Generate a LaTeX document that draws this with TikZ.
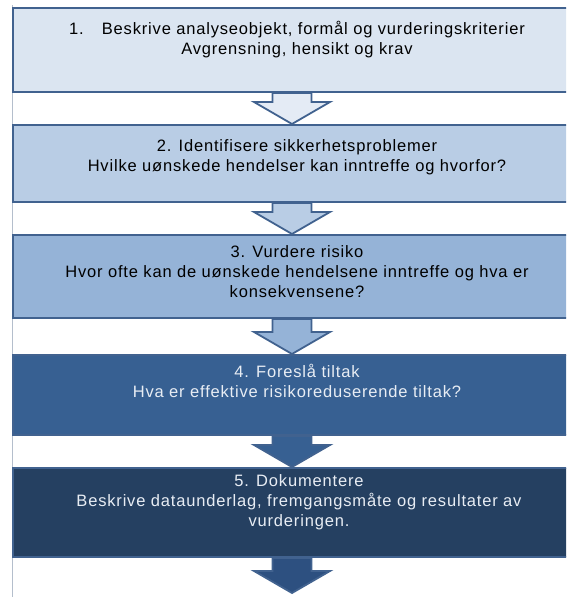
\documentclass[tikz,border=0pt]{standalone}
\usepackage{fontspec}
\setmainfont{Liberation Sans}[LetterSpace=5]
\usepackage{tikz}

\definecolor{boxline}{HTML}{41628F}
\definecolor{fillone}{HTML}{DBE5F1}
\definecolor{filltwo}{HTML}{B9CDE5}
\definecolor{fillthree}{HTML}{95B3D7}
\definecolor{fillfour}{HTML}{376092}
\definecolor{fillfive}{HTML}{254061}
\definecolor{arrowone}{HTML}{E4EBF5}
\definecolor{arrowfive}{HTML}{2D5080}
\definecolor{paletext}{HTML}{E8EDF4}
\definecolor{sideline}{HTML}{B4BECC}

\tikzset{
  stepbox/.style={draw=boxline, line width=2pt, rectangle, minimum width=558pt, inner sep=0pt},
  steptext/.style={align=center, inner sep=0pt, font=\fontsize{16.5}{20}\selectfont},
  flowarrow/.style={draw=boxline, line width=1.8pt, line join=miter},
}

% arrow between two boxes: shaft from the upper box, tip on the lower one
\newcommand{\flowarrow}[3]{%
  \draw[flowarrow, fill=#3]
    ([xshift=-19.5pt]#1.south) -- ([xshift=-19.5pt,yshift=22pt]#2)
    -- ([xshift=-38pt,yshift=22pt]#2) -- (#2)
    -- ([xshift=38pt,yshift=22pt]#2) -- ([xshift=19.5pt,yshift=22pt]#2)
    -- ([xshift=19.5pt]#1.south) -- cycle;
}

\begin{document}
\begin{tikzpicture}[x=1pt,y=1pt]

\useasboundingbox (0,0) rectangle (566,597);
\clip (0,0) rectangle (566,597);

% thin line down the left side
\draw[sideline, line width=1pt] (12.5,0) -- (12.5,592);

% Draw the five steps
\node[stepbox, fill=fillone,   minimum height=84pt] (s1) at (292,547)   {};
\node[stepbox, fill=filltwo,   minimum height=77pt] (s2) at (292,433.5) {};
\node[stepbox, fill=fillthree, minimum height=83pt] (s3) at (292,320.5) {};
\node[stepbox, fill=fillfour,  minimum height=80pt] (s4) at (292,202)   {};
\node[stepbox, fill=fillfive,  minimum height=89pt] (s5) at (292,84.5)  {};

\node[steptext] (t1) at ([xshift=5pt,yshift=10pt]s1.center)
  {1.\hspace{1.1em}Beskrive analyseobjekt, formål og vurderingskriterier\\Avgrensning, hensikt og krav};
\node[steptext] (t2) at ([xshift=5pt,yshift=6.5pt]s2.center)
  {2. Identifisere sikkerhetsproblemer\\Hvilke uønskede hendelser kan inntreffe og hvorfor?};
\node[steptext] (t3) at ([xshift=5pt,yshift=4.5pt]s3.center)
  {3. Vurdere risiko\\Hvor ofte kan de uønskede hendelsene inntreffe og hva er\\konsekvensene?};
\node[steptext, text=paletext] (t4) at ([xshift=5pt,yshift=14pt]s4.center)
  {4. Foreslå tiltak\\Hva er effektive risikoreduserende tiltak?};
\node[steptext, text=paletext] (t5) at ([xshift=7pt,yshift=10.5pt]s5.center)
  {5. Dokumentere\\Beskrive dataunderlag, fremgangsmåte og resultater av\\vurderingen.};

% arrows from step to step
\coordinate (end) at (292,4);
\flowarrow{s1}{s2.north}{arrowone}
\flowarrow{s2}{s3.north}{filltwo}
\flowarrow{s3}{s4.north}{fillthree}
\flowarrow{s4}{s5.north}{fillfour}
\flowarrow{s5}{end}{arrowfive}

\end{tikzpicture}
\end{document}
